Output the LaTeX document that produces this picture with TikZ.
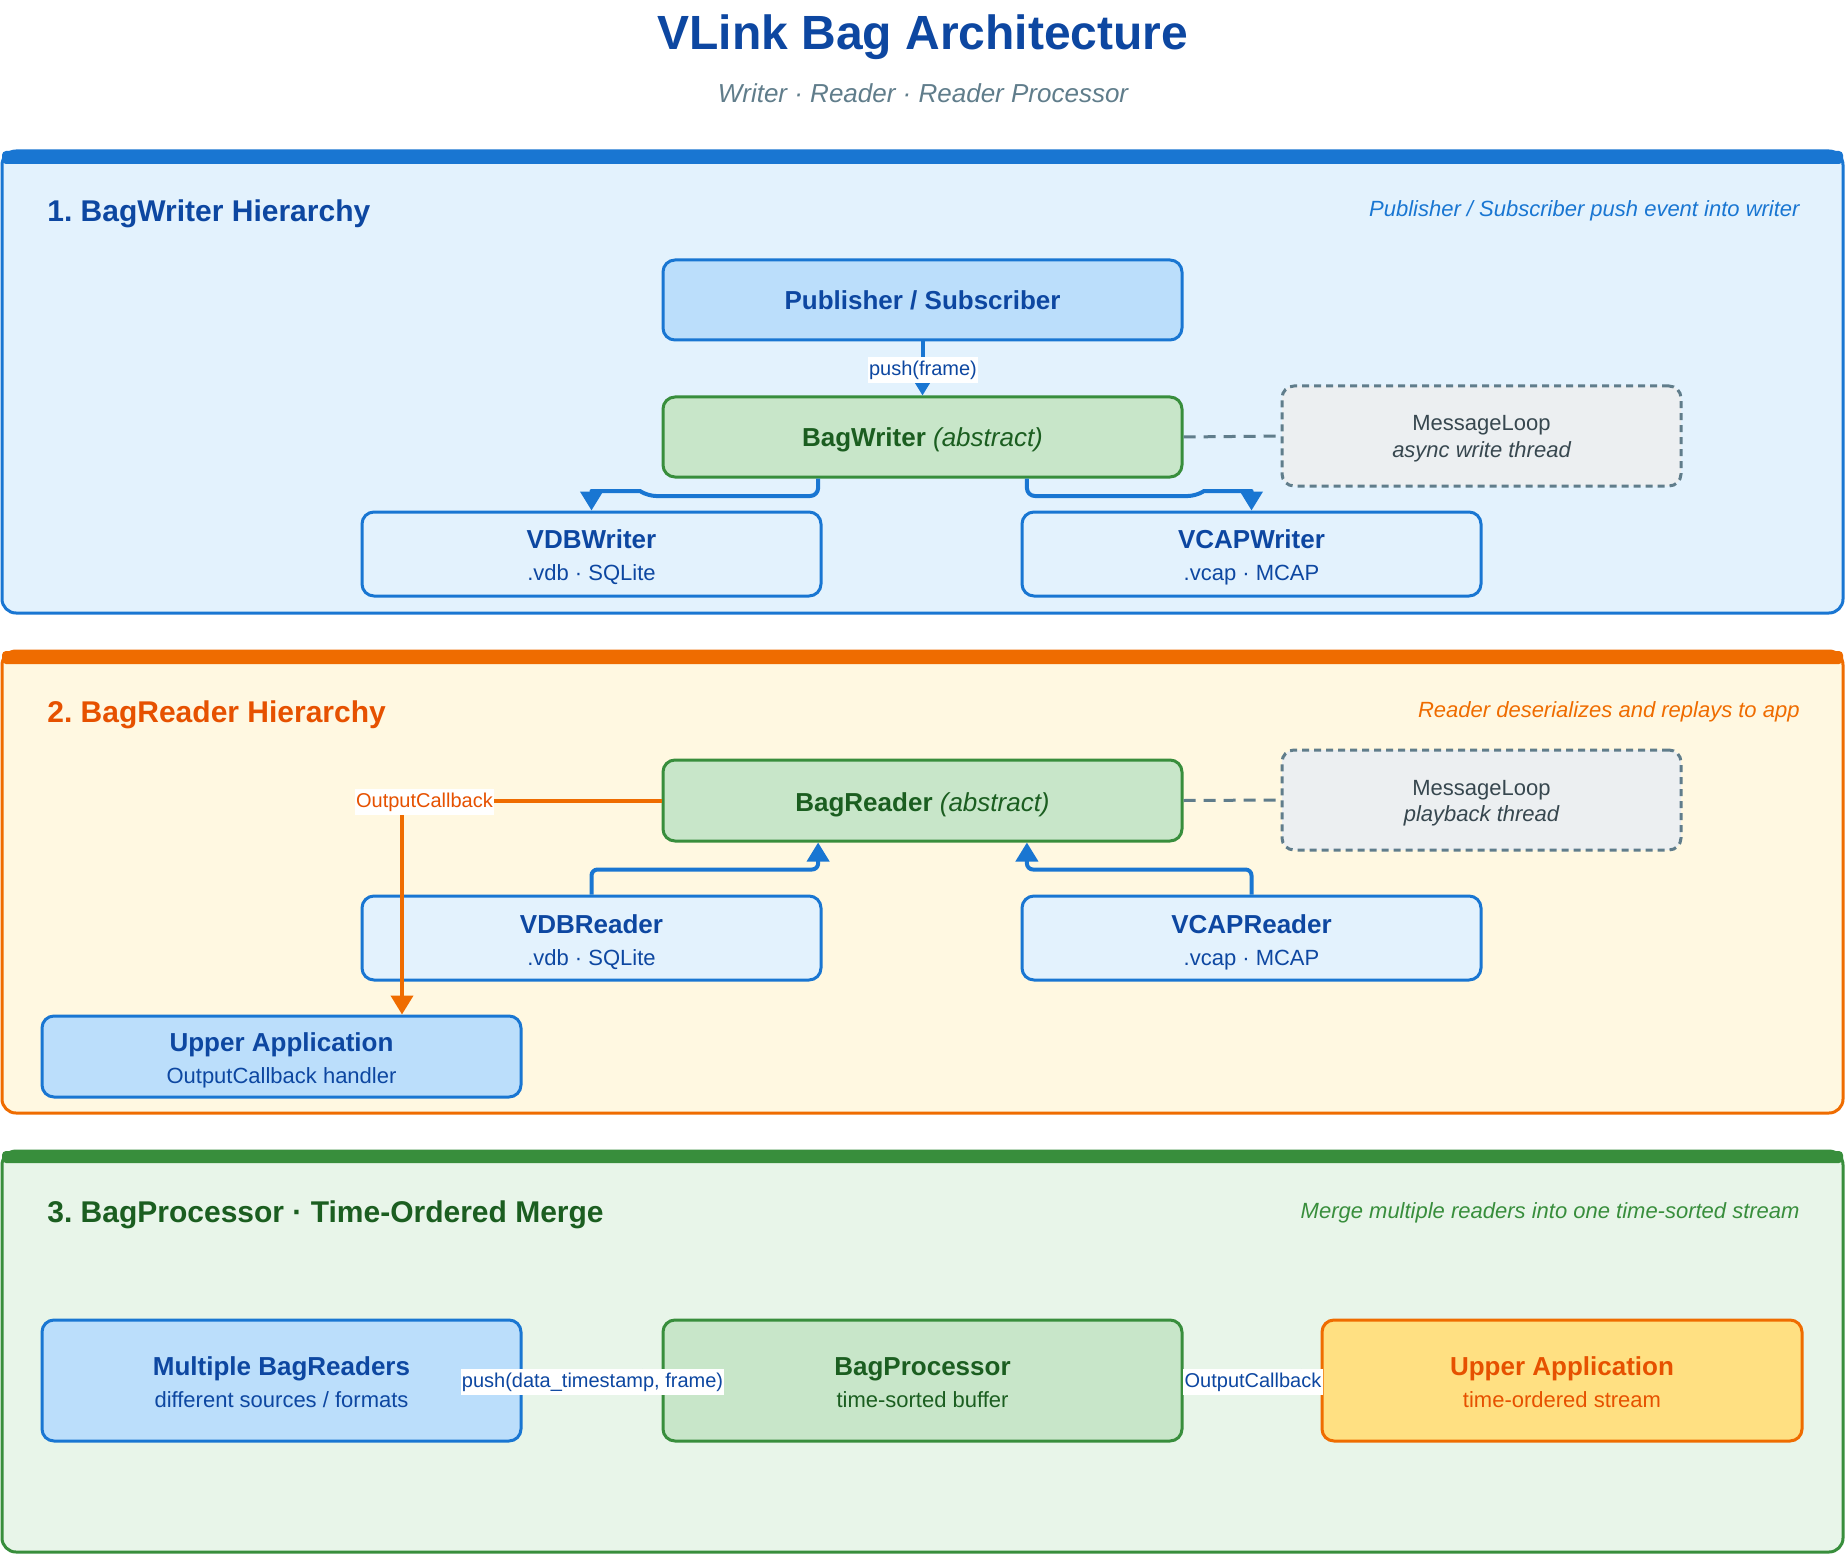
\documentclass[tikz,border=0pt]{standalone}
\usepackage{fontspec}
\setmainfont{Liberation Sans}
\usetikzlibrary{arrows.meta,calc,fit}
\definecolor{bluedk}{HTML}{0D47A1}
\definecolor{blueM}{HTML}{1976D2}
\definecolor{blueL}{HTML}{BBDEFB}
\definecolor{blueBg}{HTML}{E3F2FD}
\definecolor{orangeM}{HTML}{EF6C00}
\definecolor{orangeDk}{HTML}{E65100}
\definecolor{cream}{HTML}{FFF8E1}
\definecolor{amber}{HTML}{FFE082}
\definecolor{greenM}{HTML}{388E3C}
\definecolor{greenDk}{HTML}{1B5E20}
\definecolor{greenL}{HTML}{C8E6C9}
\definecolor{greenBg}{HTML}{E8F5E9}
\definecolor{grayM}{HTML}{607D8B}
\definecolor{grayBg}{HTML}{ECEFF1}
\definecolor{grayTx}{HTML}{37474F}
\frenchspacing
\begin{document}
\begin{tikzpicture}[x=0.5pt,y=-0.5pt,
  panel/.style={line width=1.5pt, rounded corners=7pt},
  bar/.style={rounded corners=2pt},
  box/.style={line width=1.5pt, rounded corners=6pt, inner sep=0pt},
  bluebox/.style={box, draw=blueM, fill=blueL},
  palebox/.style={box, draw=blueM, fill=blueBg},
  greenbox/.style={box, draw=greenM, fill=greenL},
  amberbox/.style={box, draw=orangeM, fill=amber},
  mlbox/.style={box, draw=grayM, fill=grayBg, dash pattern=on 3.5pt off 2.5pt},
  ttl/.style={font=\fontsize{13}{15}\selectfont\bfseries, anchor=base, inner sep=0pt},
  sub/.style={font=\fontsize{11}{13}\selectfont, anchor=base, inner sep=0pt},
  ptitle/.style={font=\fontsize{15}{18}\selectfont\bfseries, anchor=base west, inner sep=0pt},
  pnote/.style={font=\fontsize{11}{13}\selectfont\itshape, anchor=base east, inner sep=0pt},
  lbl/.style={font=\fontsize{10}{12}\selectfont, fill=white, inner xsep=0.6pt, inner ysep=1.6pt},
  conn/.style={draw=blueM, line width=2pt, line join=round, -{Triangle[width=11pt,length=9.5pt]}},
  oconn/.style={draw=orangeM, line width=2pt, -{Triangle[width=11pt,length=9.5pt]}},
  dashc/.style={draw=grayM, line width=1.5pt, dash pattern=on 6pt off 4pt}
]
\useasboundingbox (0,0) rectangle (1846,1556);
\fill[white] (0,0) rectangle (1846,1556);

% title
\node[font=\fontsize{24}{28}\selectfont\bfseries, text=bluedk, anchor=base, inner sep=0pt] (title) at (923,50) {VLink Bag Architecture};
\node[font=\fontsize{13}{15}\selectfont\itshape, text=grayM, anchor=base, inner sep=0pt] (subtitle) at (923,103) {Writer · Reader · Reader Processor};

% ===== Panel 1 =====
\draw[panel, draw=blueM, fill=blueBg] (2,151) rectangle (1843,613);
\fill[bar, blueM] (2,151) rectangle (1843,164);
\node[ptitle, text=bluedk] (p1t) at (47,222) {1. BagWriter Hierarchy};
\node[pnote, text=blueM] (p1n) at (1800,217) {Publisher / Subscriber push event into writer};

\node[bluebox, fit={(663,260) (1182,340)}] (pub) {};
\node[ttl, text=bluedk] (pubt) at (922.5,310) {Publisher / Subscriber};

\node[greenbox, fit={(663,397) (1182,477)}] (bw) {};
\node[ttl, text=greenDk] (bwt) at (922.5,446) {BagWriter \textmd{\itshape (abstract)}};

\node[mlbox, fit={(1282,386) (1681,486)}] (ml1) {};
\node[sub, text=grayTx] (ml1t) at (1481.5,430) {MessageLoop};
\node[sub, text=grayTx, font=\fontsize{11}{13}\selectfont\itshape] (ml1s) at (1481.5,457) {async write thread};

\node[palebox, fit={(362,512) (821,596)}] (vdbw) {};
\node[ttl, text=bluedk] (vdbwt) at (591.5,548) {VDBWriter};
\node[sub, text=bluedk] (vdbws) at (591.5,580) {.vdb · SQLite};

\node[palebox, fit={(1022,512) (1481,596)}] (vcapw) {};
\node[ttl, text=bluedk] (vcapwt) at (1251.5,548) {VCAPWriter};
\node[sub, text=bluedk] (vcapws) at (1251.5,580) {.vcap · MCAP};

\draw[conn] (pub.south) -- (bw.north);
\node[lbl, text=bluedk] (lab1) at (923,370) {push(frame)};

\coordinate (bwa) at ($(bw.south west)!0.3!(bw.south east)$);
\coordinate (bwb) at ($(bw.south west)!0.7!(bw.south east)$);
\draw[conn] (bwa) [rounded corners=4pt] -- (bwa |- 0,496) -- (648,496) [sharp corners] -- (640,491) -- (vdbw.north |- 0,491) -- (vdbw.north);
\draw[conn] (bwb) [rounded corners=4pt] -- (bwb |- 0,496) -- (1196,496) [sharp corners] -- (1204,491) -- (vcapw.north |- 0,491) -- (vcapw.north);
\draw[dashc] (bw.east) -- (ml1.west);

% ===== Panel 2 =====
\draw[panel, draw=orangeM, fill=cream] (2,651) rectangle (1843,1113);
\fill[bar, orangeM] (2,651) rectangle (1843,664);
\node[ptitle, text=orangeDk] (p2t) at (47,722) {2. BagReader Hierarchy};
\node[pnote, text=orangeM] (p2n) at (1800,717) {Reader deserializes and replays to app};

\node[greenbox, fit={(663,760) (1182,841)}] (br) {};
\node[ttl, text=greenDk] (brt) at (922.5,811) {BagReader \textmd{\itshape (abstract)}};

\node[mlbox, fit={(1282,750) (1681,850)}] (ml2) {};
\node[sub, text=grayTx] (ml2t) at (1481.5,795) {MessageLoop};
\node[sub, text=grayTx, font=\fontsize{11}{13}\selectfont\itshape] (ml2s) at (1481.5,821) {playback thread};

\node[palebox, fit={(362,896) (821,980)}] (vdbr) {};
\node[ttl, text=bluedk] (vdbrt) at (591.5,933) {VDBReader};
\node[sub, text=bluedk] (vdbrs) at (591.5,965) {.vdb · SQLite};

\node[palebox, fit={(1022,896) (1481,980)}] (vcapr) {};
\node[ttl, text=bluedk] (vcaprt) at (1251.5,933) {VCAPReader};
\node[sub, text=bluedk] (vcaprs) at (1251.5,965) {.vcap · MCAP};

\node[bluebox, fit={(42,1016) (521,1097)}] (ua2) {};
\node[ttl, text=bluedk] (ua2t) at (281.5,1051) {Upper Application};
\node[sub, text=bluedk] (ua2s) at (281.5,1083) {OutputCallback handler};

\coordinate (bra) at ($(br.south west)!0.3!(br.south east)$);
\coordinate (brb) at ($(br.south west)!0.7!(br.south east)$);
\draw[conn, rounded corners=3pt] (vdbr.north) |- ($(bra)+(0,27)$) -- (bra);
\draw[conn, rounded corners=3pt] (vcapr.north) |- ($(brb)+(0,27)$) -- (brb);
\draw[dashc] (br.east) -- (ml2.west);

\coordinate (uaa) at ($(ua2.north west)!0.75!(ua2.north east)$);
\draw[oconn] (br.west) -| (uaa);
\node[lbl, text=orangeDk] (lab2) at (424.5,802) {OutputCallback};

% ===== Panel 3 =====
\draw[panel, draw=greenM, fill=greenBg] (2,1151) rectangle (1843,1552);
\fill[bar, greenM] (2,1151) rectangle (1843,1163);
\node[ptitle, text=greenDk] (p3t) at (47,1222) {3. BagProcessor · Time-Ordered Merge};
\node[pnote, text=greenM] (p3n) at (1800,1218) {Merge multiple readers into one time-sorted stream};

\node[bluebox, fit={(42,1320) (521,1441)}] (mbr) {};
\node[ttl, text=bluedk] (mbrt) at (281.5,1375) {Multiple BagReaders};
\node[sub, text=bluedk] (mbrs) at (281.5,1407) {different sources / formats};

\node[greenbox, fit={(663,1320) (1182,1441)}] (bp) {};
\node[ttl, text=greenDk] (bpt) at (922.5,1375) {BagProcessor};
\node[sub, text=greenDk] (bps) at (922.5,1407) {time-sorted buffer};

\node[amberbox, fit={(1322,1320) (1802,1441)}] (ua3) {};
\node[ttl, text=orangeDk] (ua3t) at (1562,1375) {Upper Application};
\node[sub, text=orangeDk] (ua3s) at (1562,1407) {time-ordered stream};

\draw[conn] (mbr.east) -- (bp.west);
\draw[conn] (bp.east) -- (ua3.west);
\node[lbl, text=bluedk] (lab3) at (592.5,1382) {push(data\_timestamp, frame)};
\node[lbl, text=bluedk] (lab4) at (1253,1382) {OutputCallback};
\end{tikzpicture}
\end{document}
